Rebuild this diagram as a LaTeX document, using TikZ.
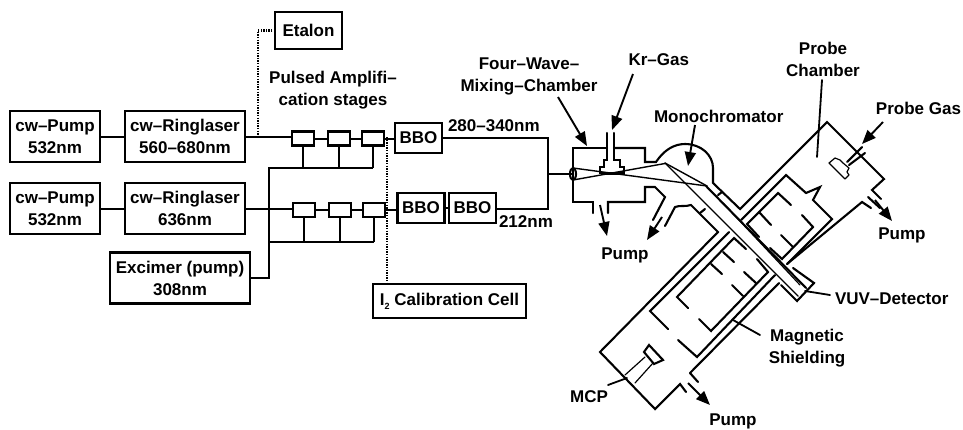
\documentclass[tikz,border=0pt]{standalone}
\usepackage{fontspec}
\setmainfont{Liberation Sans}[BoldFont={Liberation Sans Bold}]
\usetikzlibrary{arrows.meta}
\tikzset{
  x=1pt,y=-1pt,
  txt/.style={font=\fontsize{17}{22}\selectfont\bfseries,align=center,inner sep=0pt,outer sep=0pt,text=black},
  box/.style={txt,draw=black,line width=2.4pt,minimum width=#1,minimum height=51pt},
  box/.default=90pt,
  amp/.style={draw=black,line width=2.2pt,minimum width=22pt,minimum height=14pt,inner sep=0pt,outer sep=0pt},
  bbo/.style={txt,draw=black,line width=2.2pt,minimum width=47pt,minimum height=30pt},
  wire/.style={line width=2pt,line cap=butt},
  dots/.style={line width=2.4pt,dash pattern=on 1.4pt off 1.2pt},
  wall/.style={line width=2.1pt,line cap=round,line join=miter},
  thin wall/.style={line width=1.2pt,line cap=round,line join=round},
  ray/.style={line width=1.4pt,line cap=round},
  lead/.style={line width=1.8pt,line cap=round},
  arr/.style={line width=1.9pt,-{Triangle[length=14pt,width=11pt]}},
}
\begin{document}
\begin{tikzpicture}
\useasboundingbox (0,0) rectangle (963,429);
% laser boxes
\node[box=90pt] (pumpa) at (55,136.5) {cw–Pump\\532nm};
\node[box=120pt] (ringa) at (185,136.5) {cw–Ringlaser\\560–680nm};
\node[box=90pt] (pumpb) at (55,208.5) {cw–Pump\\532nm};
\node[box=120pt] (ringb) at (185,208.5) {cw–Ringlaser\\636nm};
\node[box=140pt] (excimer) at (180,278) {Excimer (pump)\\308nm};
\node[txt,draw=black,line width=2.4pt,minimum width=67pt,minimum height=37pt] (etalon) at (308.5,30.5) {Etalon};
\node[txt,draw=black,line width=2.4pt,minimum width=153pt,minimum height=34pt] (calib) at (449.5,301) {I\raisebox{-4pt}{\fontsize{9}{9}\selectfont 2} Calibration Cell};
% amplifiers
\node[amp] (aa) at (303,138.5) {};
\node[amp] (ab) at (339,138.5) {};
\node[amp] (ac) at (373,138.5) {};
\node[amp] (ba) at (304,210) {};
\node[amp] (bb) at (340,210) {};
\node[amp] (bc) at (374,210) {};
\node[bbo] (bboa) at (418.5,138) {BBO};
\node[bbo] (bbob) at (421,208) {BBO};
\node[bbo] (bboc) at (472.5,208) {BBO};
% junctions
\coordinate (busa) at (269,168);
\coordinate (busb) at (269,242);
\coordinate (etap) at (258,137);
\coordinate (calt) at (387,137);
\coordinate (joina) at (548,138);
\coordinate (joinb) at (548,209);
\coordinate (joinc) at (548,174);
\coordinate (win) at (573,174);
% wires
\draw[wire] (pumpa) -- (ringa);
\draw[wire] (pumpb) -- (ringb);
\draw[wire] (ringa.east) -- (ringa.east -| aa.west);
\draw[wire] (ringb.east) -- (ringb.east -| ba.west);
\draw[wire] (aa) -- (ab);
\draw[wire] (ab) -- (ac);
\draw[wire] (ba) -- (bb);
\draw[wire] (bb) -- (bc);
\draw[wire] (ac.east) -- (ac.east -| bboa.west);
\draw[wire] (bc.east) -- (bc.east -| bbob.west);
\draw[wire] (bbob) -- (bboc);
\draw[wire] (bboa.east) -- (joina) -- (joinb) -- (bboc.east |- joinb);
\draw[wire] (joinc) -- (win);
\draw[wire] (excimer.east) -| (busa) -- (busa -| ac);
\draw[wire] (busb) -- (busb -| bc);
\draw[wire] (aa.south) -- (aa.south |- busa);
\draw[wire] (ab.south) -- (ab.south |- busa);
\draw[wire] (ac.south) -- (ac.south |- busa);
\draw[wire] (ba.south) -- (ba.south |- busb);
\draw[wire] (bb.south) -- (bb.south |- busb);
\draw[wire] (bc.south) -- (bc.south |- busb);
\draw[dots] (etalon.west) -| (etap);
\draw[dots] (calt) -- (calt |- calib.north);
% left labels
\node[txt] (lamp) at (333,90) {Pulsed Amplifi–\\cation stages};
\node[txt,anchor=west] (lwa) at (448,126) {280–340nm};
\node[txt,anchor=west] (lwb) at (499,222) {212nm};
\node[txt] (lfour) at (529,76) {Four–Wave–\\Mixing–Chamber};
\node[txt,anchor=east] (lkr) at (689,60) {Kr–Gas};
\node[txt,anchor=west] (lmono) at (654,116) {Monochromator};
\node[txt] (lprobe) at (823,59) {Probe\\Chamber};
\node[txt,anchor=east] (lpg) at (961,108) {Probe Gas};
\node[txt] (lpa) at (625,255) {Pump};
\node[txt] (lpb) at (902,235) {Pump};
\node[txt] (lpc) at (733,421) {Pump};
\node[txt,anchor=west] (lvuv) at (835,299) {VUV–Detector};
\node[txt] (lmag) at (807,348.5) {Magnetic\\Shielding};
\node[txt,anchor=east] (lmcp) at (608,397) {MCP};
% four-wave chamber
\draw[wall] (607,148) -- (573,148) -- (573,202) -- (593,202) -- (593,213);
\draw[wall] (608,213) -- (608,202) -- (645,202) -- (645,187) -- (655,187) -- (665,197) -- (653,220);
\draw[wall] (614,148) -- (645,148) -- (645,162) -- (656,162)
  .. controls (664,150) and (674,144) .. (685,144)
  .. controls (701,144) and (713,155) .. (713,168) -- (713,183) -- (740,209) -- (827,122)
  -- (884,179) -- (872,190) -- (881,199);
\draw[wall] (868,197) -- (880,208);
\draw[wall] (871,208) -- (862,202) -- (787,264);
\draw[wall] (675,207) -- (665,226);
\draw[wall] (675,207) .. controls (680,205) and (685,207) .. (691,205) -- (718,232) -- (600,352) -- (655,409) -- (680,384) -- (686,392);
\draw[wall] (690,373) -- (698,382);
\draw[wall] (690,373) -- (779,283);
\draw[wall] (718,195) -- (722,192);
\draw[wall] (700,213) -- (705,209);
% window and gas inlet
\draw[wall] (win) ellipse (3pt and 6pt);
\draw[wall] (607,133) -- (607,160) -- (604,160) -- (604,167) -- (600,167) -- (600,173) -- (624,173) -- (624,167) -- (620,167) -- (620,160) -- (614,160) -- (614,133);
\draw[line width=2.6pt] (601,174) -- (623,174);
% beams
\draw[ray] (573,168) -- (707,186);
\draw[ray] (573,180) -- (665,163.5);
\draw[ray] (665,163) -- (707,186);
\draw[ray] (665,163) -- (798,296);
\draw[wall] (706,186) -- (806,288);
\draw[thin wall] (723,203) -- (800,285);
% probe chamber interior
\draw[wall] (741,220) -- (786,175) -- (806,193) -- (820,187) -- (813,200) -- (832,219) -- (787,264);
\draw[wall] (759,237) -- (747,224) -- (778,193) -- (791,205);
\draw[wall] (759,212) -- (771,225);
\draw[wall] (802,215) -- (813,227) -- (782,259) -- (770,248);
\draw[wall] (781,235) -- (793,247);
% detector
\draw[wall] (793,268) -- (814,283) -- (797,301) -- (781,285);
% lower chamber interior
\draw[wall] (729,232) -- (650,311) -- (668,329);
\draw[wall] (678,340) -- (697,357) -- (775,275);
\draw[wall] (746,249) -- (734,238) -- (677,297) -- (688,308);
\draw[wall] (723,252) -- (734,262);
\draw[wall] (711,264) -- (722,274);
\draw[wall] (699,319) -- (711,331) -- (768,272) -- (757,259);
\draw[wall] (744,272) -- (756,283);
\draw[wall] (732,285) -- (743,296);
% MCP
\draw[wall] (649,345) -- (663,360) -- (654,364) -- (644,352) -- cycle;
\draw[thin wall] (645,357) -- (625,375);
\draw[thin wall] (653,363) -- (635,383);
% probe gas inlet
\draw[wall] (862,147) -- (847,162);
\draw[wall] (865,153) -- (849,165);
\draw[thin wall] (835,158) -- (829,163) -- (845,179) -- (849,175) -- (847,172) -- (849,168) -- (843,163) -- (840,160) -- cycle;
% arrows
\coordinate (tipfour) at (587,146);
\coordinate (tipkr) at (612,130);
\coordinate (tipmono) at (688,166);
\coordinate (tipgas) at (862,144);
\coordinate (tipa) at (607,236);
\coordinate (tipb) at (647,240);
\coordinate (tipc) at (892,221);
\coordinate (tipd) at (710,405);
\draw[arr] (558,97) -- (tipfour);
\draw[arr] (633,74) -- (tipkr);
\draw[arr] (695,125) -- (tipmono);
\draw[arr] (883,122) -- (tipgas);
\draw[arr] (600,205) -- (tipa);
\draw[arr] (662,217) -- (tipb);
\draw[arr] (875,200) -- (tipc);
\draw[arr] (688,383) -- (tipd);
% leaders
\coordinate (enda) at (817,157);
\coordinate (endb) at (805,291);
\coordinate (endc) at (733,320);
\coordinate (endd) at (627,378);
\draw[lead] (822,80) -- (enda);
\draw[lead] (830,295) -- (endb);
\draw[lead] (760,335) -- (endc);
\draw[lead] (608,385) -- (endd);
\end{tikzpicture}
\end{document}
